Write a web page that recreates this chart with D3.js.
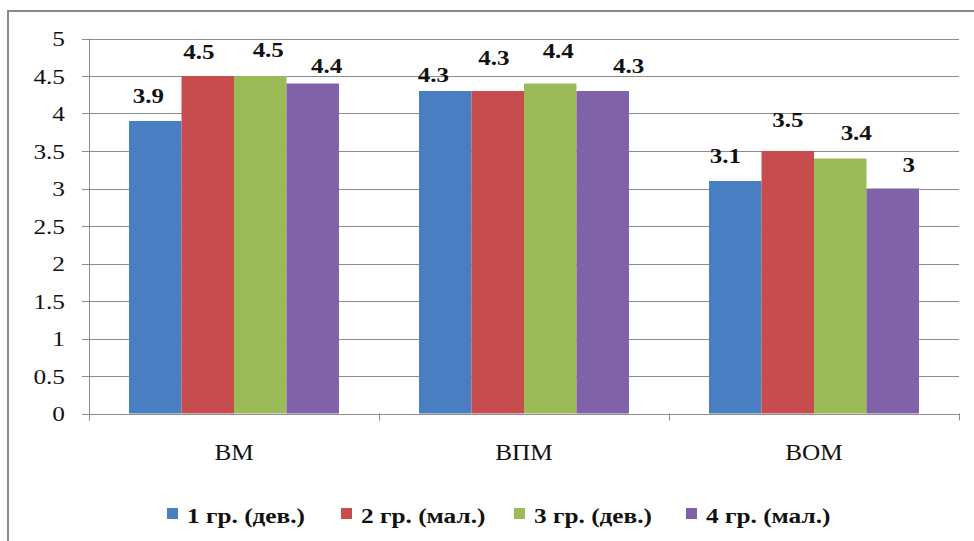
<!DOCTYPE html>
<html>
<head>
<meta charset="utf-8">
<script src="https://cdn.jsdelivr.net/npm/d3@7"></script>
<style>
  html, body { margin: 0; padding: 0; background: #ffffff; }
  svg { display: block; }
</style>
</head>
<body>
<svg id="chart" width="974" height="541"></svg>
<script>
// ---- data ----
const categories = ["ВМ", "ВПМ", "ВОМ"];
const seriesNames = ["1 гр. (дев.)", "2 гр. (мал.)", "3 гр. (дев.)", "4 гр. (мал.)"];
const group1 = [3.9, 4.3, 3.1];
const group2 = [4.5, 4.3, 3.5];
const group3 = [4.5, 4.4, 3.4];
const group4 = [4.4, 4.3, 3.0];
const yTicks = [0, 0.5, 1, 1.5, 2, 2.5, 3, 3.5, 4, 4.5, 5];
const yTickLabels = ["0", "0.5", "1", "1.5", "2", "2.5", "3", "3.5", "4", "4.5", "5"];
const valueLabels = [
  ["3.9", "4.3", "3.1"],
  ["4.5", "4.3", "3.5"],
  ["4.5", "4.4", "3.4"],
  ["4.4", "4.3", "3"]
];
// manual label nudges from the original (per series, per category)
const labelDx = [[-7, -12, -10], [-9, -4, 0], [8, 8, 16], [14, 26, 16]];
const labelDy = [[-18, -9, -18], [-17, -26, -24], [-19, -25.5, -18.5], [-10.5, -18, -16.5]];

const seriesValues = [group1, group2, group3, group4];
const colors = ["#4A7EC3", "#C64C4D", "#9BBB59", "#8062A8"];
const FONT = "'Liberation Serif', 'Times New Roman', Times, serif";

// ---- layout ----
const svg = d3.select("#chart");
const plot = { left: 89, right: 959, top: 38.5, bottom: 413.5 };

// outer chart border (only top & left visible in the crop)
svg.append("rect")
  .attr("x", 8).attr("y", 11)
  .attr("width", 1000).attr("height", 600)
  .attr("fill", "none").attr("stroke", "#8a8a8a").attr("stroke-width", 2);

const y = d3.scaleLinear().domain([0, 5]).range([plot.bottom, plot.top]);
const x0 = d3.scaleBand().domain(categories).range([plot.left, plot.right]).padding(0);
const gap = x0.bandwidth() * 0.276;
const x1 = d3.scaleBand().domain(d3.range(seriesNames.length))
  .range([gap / 2, x0.bandwidth() - gap / 2]).padding(0);

// gridlines
svg.append("g").selectAll("line").data(yTicks).join("line")
  .attr("x1", plot.left - 7).attr("x2", plot.right)
  .attr("y1", d => Math.round(y(d)) + 0.5).attr("y2", d => Math.round(y(d)) + 0.5)
  .attr("stroke", "#8c8c8c").attr("stroke-width", 1);

// y axis line
svg.append("line")
  .attr("x1", plot.left + 0.5).attr("x2", plot.left + 0.5)
  .attr("y1", plot.top).attr("y2", plot.bottom + 7)
  .attr("stroke", "#8c8c8c");

// x category tick marks
const bounds = categories.map(c => x0(c)).concat([plot.right]);
svg.append("g").selectAll("line").data(bounds).join("line")
  .attr("x1", d => Math.round(d) + 0.5).attr("x2", d => Math.round(d) + 0.5)
  .attr("y1", plot.bottom).attr("y2", plot.bottom + 7)
  .attr("stroke", "#8c8c8c");

// y tick labels
svg.append("g").selectAll("text").data(yTicks).join("text")
  .attr("transform", d => `translate(65,${y(d) + 7.5}) scale(1.15,1)`)
  .attr("text-anchor", "end")
  .attr("font-family", FONT)
  .attr("fill", "#111")
  .attr("font-size", 22)
  .text((d, i) => yTickLabels[i]);

// bars
const barData = [];
seriesValues.forEach((vals, s) => {
  vals.forEach((v, c) => barData.push({ s, c, v }));
});

svg.append("g").selectAll("rect").data(barData).join("rect")
  .attr("x", d => x0(categories[d.c]) + x1(d.s))
  .attr("width", x1.bandwidth())
  .attr("y", d => y(d.v))
  .attr("height", d => y(0) - y(d.v))
  .attr("fill", d => colors[d.s]);

// value labels
svg.append("g").selectAll("text").data(barData).join("text")
  .attr("transform", d => {
    const cx = x0(categories[d.c]) + x1(d.s) + x1.bandwidth() / 2 + labelDx[d.s][d.c];
    const cy = y(d.v) + labelDy[d.s][d.c];
    return `translate(${cx},${cy}) scale(1.25,1)`;
  })
  .attr("text-anchor", "middle")
  .attr("font-family", FONT)
  .attr("fill", "#111")
  .attr("font-size", 20)
  .attr("font-weight", "bold")
  .text(d => valueLabels[d.s][d.c]);

// category labels
svg.append("g").selectAll("text").data(categories).join("text")
  .attr("transform", d => `translate(${x0(d) + x0.bandwidth() / 2},460) scale(1.05,1)`)
  .attr("text-anchor", "middle")
  .attr("font-family", FONT)
  .attr("fill", "#111")
  .attr("font-size", 24)
  .text(d => d);

// legend
const legendX = [167, 341, 514, 686];
const legend = svg.append("g").selectAll("g").data(seriesNames).join("g")
  .attr("transform", (d, i) => `translate(${legendX[i]},0)`);
legend.append("rect")
  .attr("x", 0).attr("y", 508).attr("width", 11).attr("height", 11)
  .attr("fill", (d, i) => colors[i]);
legend.append("text")
  .attr("transform", "translate(20,523) scale(1.15,1)")
  .attr("font-family", FONT)
  .attr("fill", "#111")
  .attr("font-size", 22)
  .attr("font-weight", "bold")
  .text(d => d);
</script>
</body>
</html>
